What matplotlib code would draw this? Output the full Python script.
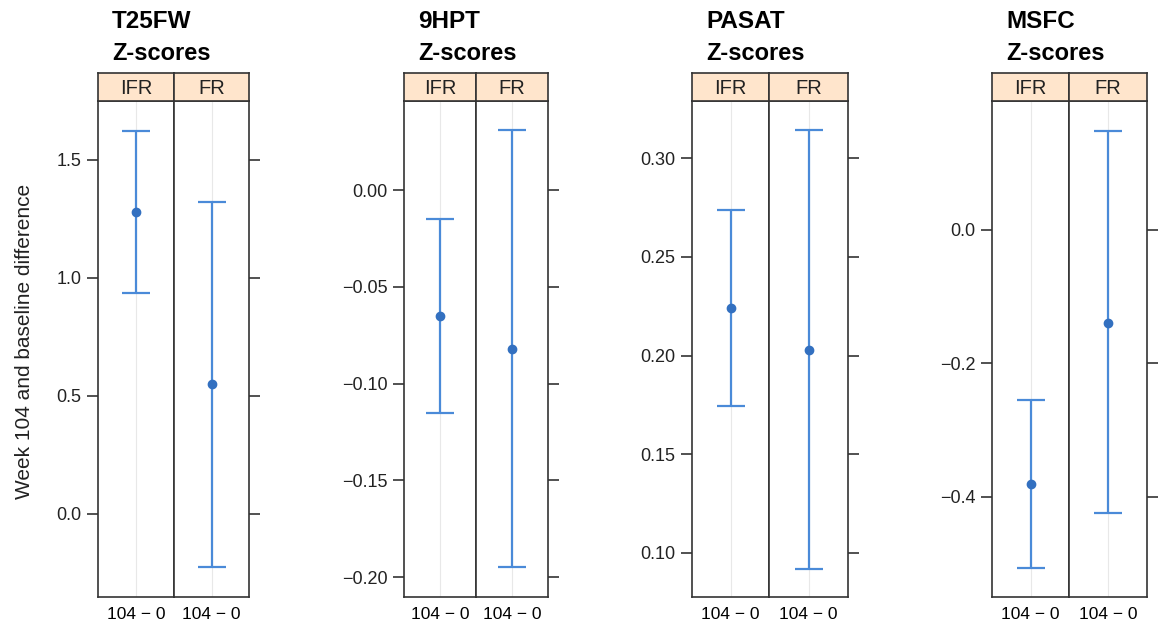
import numpy as np
import matplotlib.pyplot as plt

plt.rcParams['font.family'] = ['Liberation Sans', 'DejaVu Sans']

measures = ["T25FW", "9HPT", "PASAT", "MSFC"]
groups = ["IFR", "FR"]
xlabel = "104 \u2212 0"

t25fw_mean = [1.28, 0.551]
t25fw_lo = [0.937, -0.225]
t25fw_hi = [1.622, 1.322]

hpt_mean = [-0.065, -0.082]
hpt_lo = [-0.115, -0.195]
hpt_hi = [-0.015, 0.031]

pasat_mean = [0.224, 0.203]
pasat_lo = [0.1744, 0.0919]
pasat_hi = [0.2735, 0.3142]

msfc_mean = [-0.381, -0.139]
msfc_lo = [-0.506, -0.424]
msfc_hi = [-0.2555, 0.148]

means = [t25fw_mean, hpt_mean, pasat_mean, msfc_mean]
lows = [t25fw_lo, hpt_lo, pasat_lo, msfc_lo]
highs = [t25fw_hi, hpt_hi, pasat_hi, msfc_hi]

ylims = [(-0.352, 1.75), (-0.2103, 0.046), (0.0776, 0.329), (-0.550, 0.193)]
yticks = [[0.0, 0.5, 1.0, 1.5],
          [-0.20, -0.15, -0.10, -0.05, 0.00],
          [0.10, 0.15, 0.20, 0.25, 0.30],
          [-0.4, -0.2, 0.0]]
tickfmt = ["{:.1f}", "{:.2f}", "{:.2f}", "{:.1f}"]

# panel pixel edges: left, divider, right
edges = [(98, 174, 249), (404, 476, 548), (692, 769, 848), (992, 1069, 1147)]

W, H = 1161, 626
fig = plt.figure(figsize=(W / 100, H / 100), dpi=100)

plot_top, plot_bot = 101, 597
strip_top = 73
line_col = "#4a8ad8"
dot_col = "#3370c0"
frame_col = "#333333"


def fx(px):
    return px / W


def fy(py):
    return 1 - py / H


for i, name in enumerate(measures):
    x0, xd, x1 = edges[i]
    for j, g in enumerate(groups):
        a, b = (x0, xd) if j == 0 else (xd, x1)
        ax = fig.add_axes([fx(a), fy(plot_bot), fx(b - a), fy(plot_top) - fy(plot_bot)])
        ax.set_xlim(0.4, 1.6)
        ax.set_ylim(*ylims[i])
        ax.axvline(1, color="#e8e8e8", lw=0.8, zorder=0)
        m = means[i][j]
        ax.errorbar([1], [m], yerr=[[m - lows[i][j]], [highs[i][j] - m]],
                    fmt="none", ecolor=line_col, elinewidth=1.6, capsize=10, capthick=1.6)
        ax.plot([1], [m], "o", color=dot_col, ms=6)
        for s in ax.spines.values():
            s.set_color(frame_col)
            s.set_linewidth(1.2)
        ax.set_xticks([1])
        ax.set_xticklabels([xlabel], fontsize=12.5)
        ax.tick_params(axis="x", length=0, pad=7)
        ax.set_yticks(yticks[i])
        labels = [tickfmt[i].format(v).replace("-", "\u2212") for v in yticks[i]]
        if j == 0:
            ax.set_yticklabels(labels, fontsize=13)
            ax.tick_params(axis="y", left=True, right=False, length=8, width=1.2,
                           color=frame_col, pad=4, labelcolor="#222222")
        else:
            ax.yaxis.tick_right()
            ax.tick_params(axis="y", left=False, right=True, labelright=False,
                           length=8, width=1.2, color=frame_col)

        sax = fig.add_axes([fx(a), fy(plot_top), fx(b - a), fy(strip_top) - fy(plot_top)])
        sax.set_facecolor("#ffe5cc")
        sax.set_xticks([])
        sax.set_yticks([])
        for s in sax.spines.values():
            s.set_color(frame_col)
            s.set_linewidth(1.2)
        sax.text(0.5, 0.45, g, ha="center", va="center", fontsize=14.5,
                 transform=sax.transAxes, color="#222222")

    fig.text(fx(x0 + 14), fy(22), name, ha="left", va="center",
             fontsize=17.5, fontweight="bold")
    fig.text(fx(x0 + 14), fy(53), "Z-scores", ha="left", va="center",
             fontsize=17, fontweight="bold")

fig.text(fx(25), fy(341), "Week 104 and baseline difference", rotation=90,
         ha="center", va="center", fontsize=15, color="#222222")

fig.savefig("out.png", dpi=100)
